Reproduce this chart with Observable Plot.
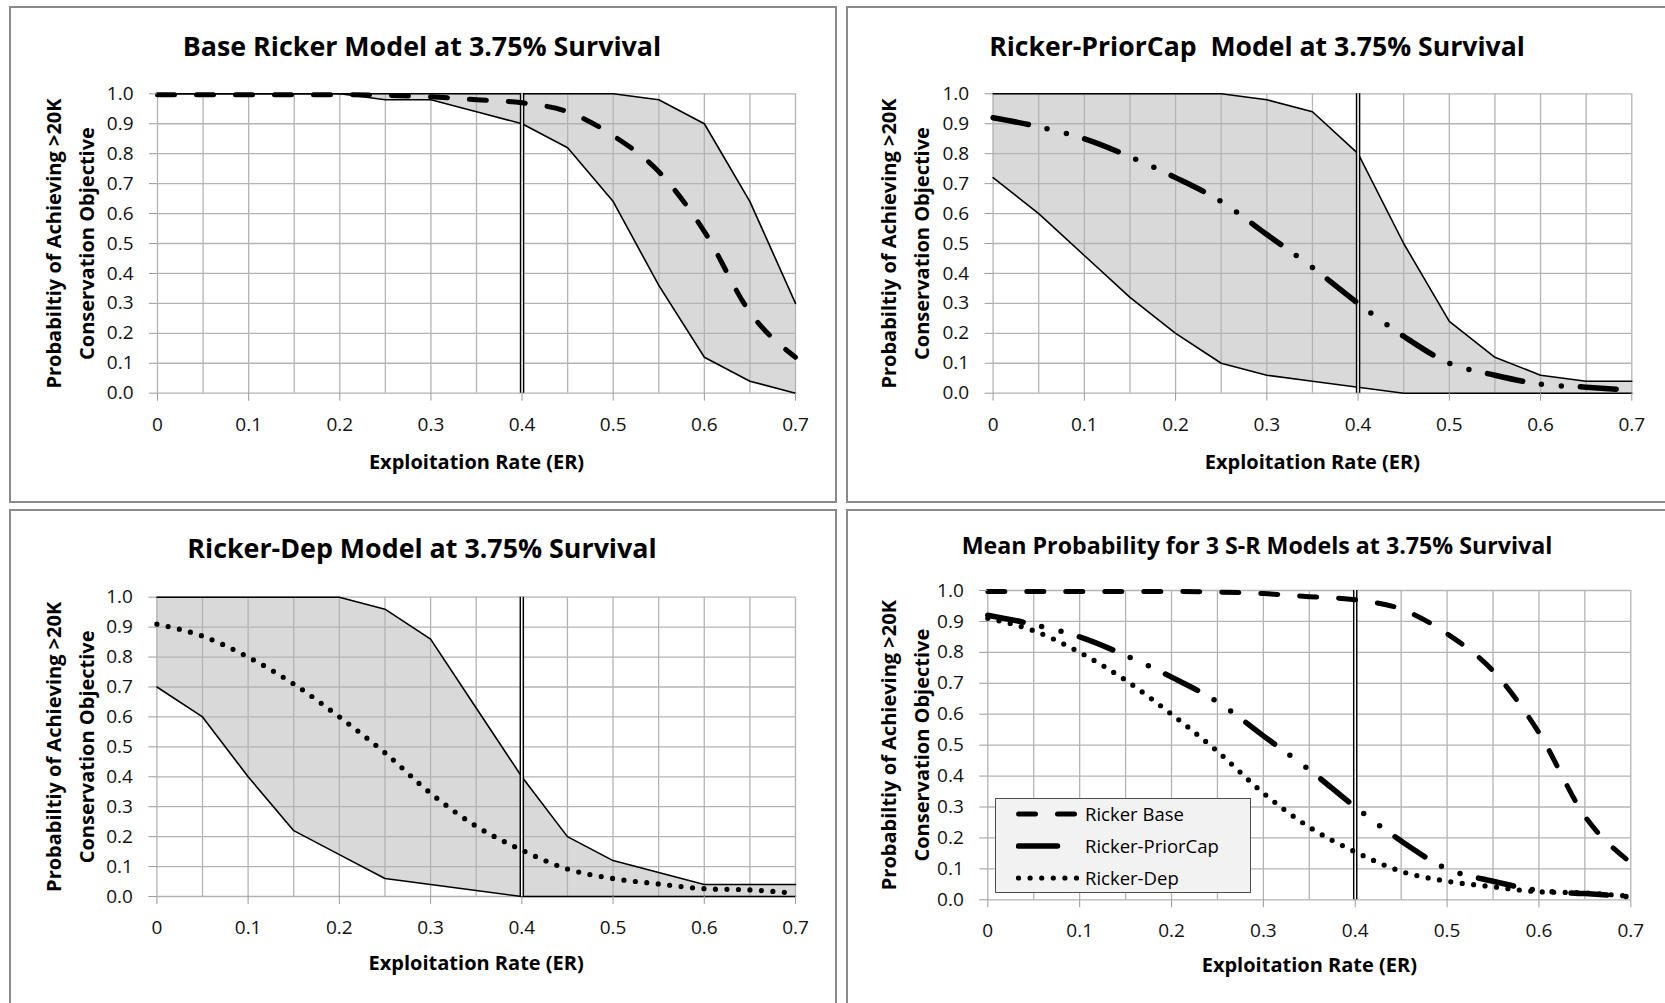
<!DOCTYPE html>
<html>
<head>
<meta charset="utf-8">
<script src="https://cdn.jsdelivr.net/npm/d3@7"></script>
<script src="https://cdn.jsdelivr.net/npm/@observablehq/plot@0.6"></script>
<style>
  html, body { margin: 0; padding: 0; background: #fff; }
  body { width: 1665px; height: 1003px; overflow: hidden; position: relative; font-family: "Open Sans", Lato, sans-serif; }
  .panel { position: absolute; width: 828px; height: 497px; border: 2px solid #8a8a8a; box-sizing: border-box; background: #fff; }
  .title { position: absolute; width: 800px; text-align: center; font-weight: bold; color: #000; white-space: pre; font-family: "Open Sans", sans-serif; }
  .chart { position: absolute; }
  .legend { position: absolute; background: #f2f2f2; border: 1px solid #4d4d4d; box-sizing: border-box; }
  .legend .row { position: absolute; left: 0; height: 28px; }
  .legend .row span { position: absolute; left: 89px; top: 0; font-size: 18.5px; color: #000; white-space: nowrap; line-height: 28px; font-family: "Open Sans", sans-serif; }
  .legend svg { position: absolute; left: 20px; top: 7px; }
</style>
</head>
<body>
<script>
// ---------- data ----------
const er = [0, 0.05, 0.1, 0.15, 0.2, 0.25, 0.3, 0.35, 0.4, 0.45, 0.5, 0.55, 0.6, 0.65, 0.7];

const baseUpper  = [1, 1, 1, 1, 1, 1, 1, 1, 1, 1, 1, 0.98, 0.90, 0.64, 0.30];
const baseLower  = [1, 1, 1, 1, 1, 0.98, 0.98, 0.94, 0.90, 0.82, 0.64, 0.36, 0.12, 0.04, 0.00];
const baseMedian = [0.997, 0.997, 0.997, 0.997, 0.997, 0.995, 0.99, 0.98, 0.97, 0.94, 0.86, 0.74, 0.54, 0.27, 0.12];

const priorUpper  = [1, 1, 1, 1, 1, 1, 0.98, 0.94, 0.80, 0.50, 0.24, 0.12, 0.06, 0.04, 0.04];
const priorLower  = [0.72, 0.60, 0.46, 0.32, 0.20, 0.10, 0.06, 0.04, 0.02, 0, 0, 0, 0, 0, 0];
const priorMedian = [0.92, 0.89, 0.85, 0.79, 0.72, 0.64, 0.53, 0.42, 0.30, 0.19, 0.10, 0.06, 0.03, 0.02, 0.01];

const depUpper  = [1, 1, 1, 1, 1, 0.96, 0.86, 0.63, 0.40, 0.20, 0.12, 0.08, 0.04, 0.04, 0.04];
const depLower  = [0.70, 0.60, 0.40, 0.22, 0.14, 0.06, 0.04, 0.02, 0, 0, 0, 0, 0, 0, 0];
const depMedian = [0.91, 0.87, 0.80, 0.71, 0.60, 0.48, 0.345, 0.235, 0.155, 0.092, 0.06, 0.042, 0.026, 0.022, 0.011];

const referenceER = [0.4];
const xTicks = [0, 0.1, 0.2, 0.3, 0.4, 0.5, 0.6, 0.7];
const yTicks = [0, 0.1, 0.2, 0.3, 0.4, 0.5, 0.6, 0.7, 0.8, 0.9, 1.0];
const xGrid = er;

const titles = [
  "Base Ricker Model at 3.75% Survival",
  "Ricker-PriorCap  Model at 3.75% Survival",
  "Ricker-Dep Model at 3.75% Survival",
  "Mean Probability for 3 S-R Models at 3.75% Survival"
];
const yTitle = "Probabiltiy of Achieving >20K\nConservation Objective";
const xTitle = "Exploitation Rate (ER)";
const seriesNames = ["Ricker Base", "Ricker-PriorCap", "Ricker-Dep"];

// ---------- styles ----------
const styles = {
  base:  {stroke: "#000", strokeWidth: 5, strokeDasharray: "17,22", strokeLinecap: "round"},
  prior: {stroke: "#000", strokeWidth: 5.5, strokeDasharray: "36,19,0,20,0,19", strokeLinecap: "round"},
  dep:   {stroke: "#000", strokeWidth: 5.2, strokeDasharray: "0,11.5", strokeLinecap: "round"}
};

function rowsOf(upper, lower, median) {
  return er.map((x, i) => ({er: x, upper: upper ? upper[i] : null, lower: lower ? lower[i] : null, median: median ? median[i] : null}));
}

function makePanel({left, top, title, titleSize, titleY, titleCx, m, yTitleDx, xTitleDy, band, lines}) {
  const p = document.createElement("div");
  p.className = "panel";
  p.style.left = left + "px";
  p.style.top = top + "px";
  document.body.appendChild(p);

  const marks = [];
  if (band) {
    marks.push(Plot.areaY(band, {x: "er", y1: "lower", y2: "upper", fill: "#d9d9d9"}));
  }
  marks.push(Plot.ruleX(xGrid, {stroke: "#b3b3b3", strokeWidth: 1.3}));
  marks.push(Plot.ruleY(yTicks, {stroke: "#b3b3b3", strokeWidth: 1.3}));
  if (band) {
    marks.push(Plot.lineY(band, {x: "er", y: "upper", stroke: "#000", strokeWidth: 1.6}));
    marks.push(Plot.lineY(band, {x: "er", y: "lower", stroke: "#000", strokeWidth: 1.6}));
  }
  marks.push(Plot.ruleX(referenceER, {stroke: "#000", strokeWidth: 4.5}));
  marks.push(Plot.ruleX(referenceER, {stroke: "#fff", strokeWidth: 1.6}));
  for (const l of lines) {
    marks.push(Plot.lineY(l.rows, {x: "er", y: "median", curve: "monotone-x", ...l.style}));
  }
  marks.push(Plot.axisY(yTicks, {tickSize: 8, tickPadding: 16, tickFormat: d3.format(".1f"), stroke: "#9a9a9a", fill: "#111", fontSize: 19, label: null}));
  marks.push(Plot.axisX(xTicks, {tickSize: 8, tickPadding: 16, tickFormat: d => String(d), stroke: "#9a9a9a", fill: "#111", fontSize: 19, label: null}));
  marks.push(Plot.text([yTitle], {frameAnchor: "left", rotate: -90, dx: yTitleDx, textAnchor: "middle", lineAnchor: "middle", lineHeight: 1.65, fontSize: 20, fontWeight: "bold", fill: "#000"}));
  marks.push(Plot.text([xTitle], {frameAnchor: "bottom", dy: xTitleDy, textAnchor: "middle", lineAnchor: "middle", fontSize: 20, fontWeight: "bold", fill: "#000"}));

  const chart = Plot.plot({
    width: 828, height: 497,
    marginLeft: m[0], marginRight: m[1], marginTop: m[2], marginBottom: m[3],
    x: {domain: [0, 0.7], axis: null},
    y: {domain: [0, 1], axis: null},
    style: {fontFamily: "'Open Sans', sans-serif", background: "transparent", overflow: "visible"},
    marks
  });
  chart.classList.add("chart");
  chart.style.left = left + "px";
  chart.style.top = top + "px";
  document.body.appendChild(chart);

  const t = document.createElement("div");
  t.className = "title";
  t.textContent = title;
  t.style.fontSize = titleSize + "px";
  t.style.lineHeight = (titleSize * 1.36) + "px";
  t.style.left = (titleCx - 400) + "px";
  t.style.top = (titleY - titleSize * 0.68) + "px";
  document.body.appendChild(t);
}

const baseRows = rowsOf(baseUpper, baseLower, baseMedian);
const priorRows = rowsOf(priorUpper, priorLower, priorMedian);
const depRows = rowsOf(depUpper, depLower, depMedian);

makePanel({left: 9, top: 6, title: titles[0], titleSize: 26.8, titleY: 46, titleCx: 422,
  m: [148, 42, 87.3, 110.3], yTitleDx: -91, xTitleDy: 69,
  band: baseRows, lines: [{rows: baseRows, style: styles.base}]});

makePanel({left: 846, top: 6, title: titles[1], titleSize: 26.6, titleY: 46, titleCx: 1257,
  m: [146.6, 42.7, 87.3, 110.3], yTitleDx: -91, xTitleDy: 69,
  band: priorRows, lines: [{rows: priorRows, style: styles.prior}]});

makePanel({left: 9, top: 509, title: titles[2], titleSize: 26.8, titleY: 548, titleCx: 422,
  m: [147.4, 42, 87.7, 110], yTitleDx: -90, xTitleDy: 67,
  band: depRows, lines: [{rows: depRows, style: styles.dep}]});

makePanel({left: 846, top: 509, title: titles[3], titleSize: 23.2, titleY: 546, titleCx: 1257,
  m: [141.3, 43.7, 81, 106.7], yTitleDx: -86, xTitleDy: 66,
  band: null, lines: [
    {rows: baseRows, style: styles.base},
    {rows: priorRows, style: styles.prior},
    {rows: depRows, style: styles.dep}
  ]});

// ---------- legend (panel 4) ----------
const legend = document.createElement("div");
legend.className = "legend";
legend.style.left = "995px";
legend.style.top = "798px";
legend.style.width = "256px";
legend.style.height = "95px";
document.body.appendChild(legend);

const legendKeys = ["base", "prior", "dep"];
seriesNames.forEach((name, i) => {
  const row = document.createElement("div");
  row.className = "row";
  row.style.top = (1 + i * 32) + "px";
  row.style.width = "254px";
  const svg = d3.create("svg").attr("width", 64).attr("height", 14);
  const st = styles[legendKeys[i]];
  const ln = svg.append("line").attr("y1", 7).attr("y2", 7)
    .attr("stroke", st.stroke).attr("stroke-width", st.strokeWidth).attr("stroke-linecap", "round");
  if (legendKeys[i] === "base") ln.attr("x1", 2.5).attr("x2", 58.5).attr("stroke-dasharray", "17,22");
  else if (legendKeys[i] === "prior") ln.attr("x1", 2.5).attr("x2", 41.5);
  else ln.attr("x1", 2.5).attr("x2", 61).attr("stroke-dasharray", "0,11.6");
  row.appendChild(svg.node());
  const sp = document.createElement("span");
  sp.textContent = name;
  row.appendChild(sp);
  legend.appendChild(row);
});
</script>
</body>
</html>
